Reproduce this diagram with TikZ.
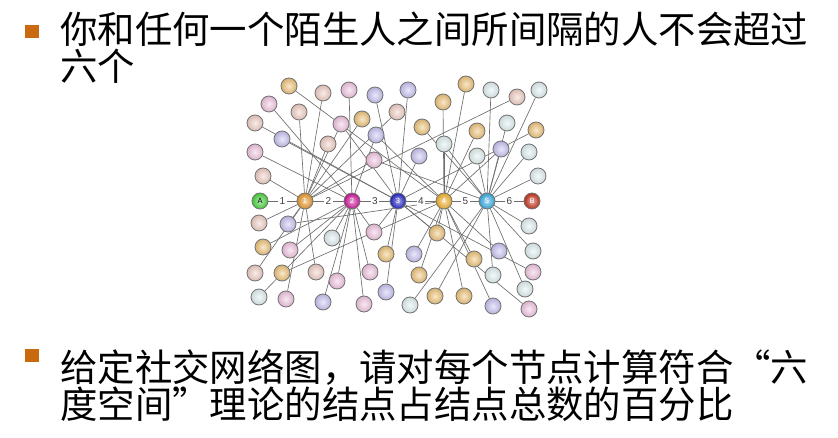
\documentclass[tikz,border=0pt]{standalone}
\usepackage{fontspec}
\setmainfont{Liberation Sans}
\newfontfamily\cjk{Noto Sans CJK SC}
\usetikzlibrary{backgrounds}

% node colours
\definecolor{cOr}{HTML}{EFC47A}
\definecolor{cSa}{HTML}{F1CFC6}
\definecolor{cPk}{HTML}{F2C6E2}
\definecolor{cLv}{HTML}{C9C4F3}
\definecolor{cCy}{HTML}{E2F0F2}
\definecolor{hA}{HTML}{46D63A}
\definecolor{h1}{HTML}{E8992C}
\definecolor{h2}{HTML}{D0159A}
\definecolor{h3}{HTML}{2222C8}
\definecolor{h4}{HTML}{F1B22C}
\definecolor{h5}{HTML}{38ADE5}
\definecolor{hB}{HTML}{C8331D}
\definecolor{bulletc}{HTML}{C96A10}
\definecolor{linkc}{HTML}{6E6E6E}

\tikzset{
  x=1pt, y=-1pt,
  pnode/.style={circle, inner sep=0pt, minimum size=16pt,
    draw=black!55, line width=0.8pt,
    inner color=white!60!#1, outer color=#1!90!black},
  hub/.style={pnode=#1, font=\fontsize{7.5}{7.5}\selectfont, text=white},
  link/.style={draw=linkc, line width=0.65pt},
  elabel/.style={fill=white, inner sep=1.5pt, text=black!75,
    font=\fontsize{10}{10}\selectfont},
  bulletbox/.style={rectangle, fill=bulletc, inner sep=0pt,
    minimum width=13.5pt, minimum height=13pt},
  bodytext/.style={anchor=base west, inner sep=0pt,
    font=\cjk\fontsize{37.4}{37.4}\selectfont}
}

\begin{document}
\begin{tikzpicture}
\useasboundingbox (0,0) rectangle (838,438);

% bullet points
\node[bulletbox] (b1) at (32,31.5) {};
\node[bodytext] (t1a) at (60,44) {你和任何一个陌生人之间所间隔的人不会超过};
\node[bodytext] (t1b) at (60,81) {六个};
\node[bulletbox] (b2) at (32,355) {};
\node[bodytext] (t2a) at (60,381) {给定社交网络图，请对每个节点计算符合“六};
\node[bodytext] (t2b) at (60,418) {度空间”理论的结点占结点总数的百分比};

% the chain from A to B
\node[hub=hA, text=black] (A) at (260,201) {A};
\node[hub=h1] (c1) at (305,201) {1};
\node[hub=h2] (c2) at (352,201) {2};
\node[hub=h3] (c3) at (398,201) {3};
\node[hub=h4] (c4) at (444,201) {4};
\node[hub=h5] (c5) at (487,201) {5};
\node[hub=hB] (B) at (532,201) {B};

% surrounding people
\foreach \n/\x/\y/\c in {
  u1/289/86/cOr, u2/323/93/cSa, u3/349/90/cPk, u4/375/95/cLv,
  u5/408/90/cLv, u6/269/104/cPk, u7/299/112/cSa, u8/255/123/cSa,
  u9/341/124/cPk, u10/362/119/cOr, u11/397/112/cSa, u12/376/135/cLv,
  u13/282/139/cLv, u14/328/144/cSa, u15/255/152/cPk, u16/374/160/cPk,
  u17/263/176/cSa,
  v1/466/84/cOr, v2/491/90/cCy, v3/539/90/cCy, v4/517/97/cSa,
  v5/443/102/cOr, v6/422/127/cOr, v7/477/131/cOr, v8/507/123/cCy,
  v9/536/130/cOr, v10/444/144/cCy, v11/501/149/cLv, v12/477/156/cCy,
  v13/529/152/cCy, v14/419/156/cLv, v15/538/176/cCy,
  l1/259/223/cSa, l2/288/224/cLv, l3/332/238/cCy, l4/374/232/cPk,
  l5/263/247/cOr, l6/290/250/cPk, l7/386/254/cOr, l8/255/273/cSa,
  l9/282/273/cOr, l10/316/272/cSa, l11/337/281/cPk, l12/370/272/cPk,
  l13/386/292/cLv, l14/259/297/cCy, l15/286/299/cPk, l16/323/302/cLv,
  l17/364/304/cPk,
  r1/529/226/cCy, r2/437/233/cOr, r3/414/254/cLv, r4/474/259/cOr,
  r5/499/251/cLv, r6/533/251/cCy, r7/419/275/cOr, r8/493/275/cCy,
  r9/533/272/cPk, r10/525/289/cCy, r11/435/296/cOr, r12/464/296/cOr,
  r13/410/305/cCy, r14/493/306/cLv, r15/529/309/cPk}
  \node[pnode=\c] (\n) at (\x,\y) {};

\begin{pgfonlayer}{background}
  \fill[white] (0,0) rectangle (838,438);
  % acquaintance links
  \foreach \a/\b in {
    u1/c4, u2/c1, u3/c2, u4/c3, u5/c3, u6/c2, u7/c1, u8/c3, u9/c1, u9/c3,
    u10/c1, u11/c1, u12/c2, u12/c4, u13/c3, u14/c1, u15/c2, u16/c1, u16/c5,
    u17/c1,
    v1/c4, v2/c5, v3/c5, v4/c1, v5/c4, v6/c5, v7/c4, v8/c5, v9/c3, v10/c4,
    v10/c5, v11/c5, v11/c4, v12/c5, v13/c5, v14/c3, v15/c5,
    l1/c1, l2/c1, l2/c4, l3/c2, l4/c2, l4/c3, l5/c2, l6/c2, l7/c3, l8/c1,
    l9/c4, l10/c1, l11/c2, l12/c2, l13/c3, l14/c2, l15/c1, l16/c2, l17/c2,
    r1/c5, r2/c4, r2/c3, r3/c4, r4/c4, r5/c4, r6/c5, r7/c4, r8/c5, r9/c3,
    r10/c5, r11/c5, r12/c4, r13/c5, r14/c4, r15/c3}
    \draw[link] (\a) -- (\b);
  % numbered steps along the chain
  \draw[link] (A) -- node[elabel] {1} (c1);
  \draw[link] (c1) -- node[elabel] {2} (c2);
  \draw[link] (c2) -- node[elabel] {3} (c3);
  \draw[link] (c3) -- node[elabel] {4} (c4);
  \draw[link] (c4) -- node[elabel] {5} (c5);
  \draw[link] (c5) -- node[elabel] {6} (B);
\end{pgfonlayer}
\end{tikzpicture}
\end{document}
